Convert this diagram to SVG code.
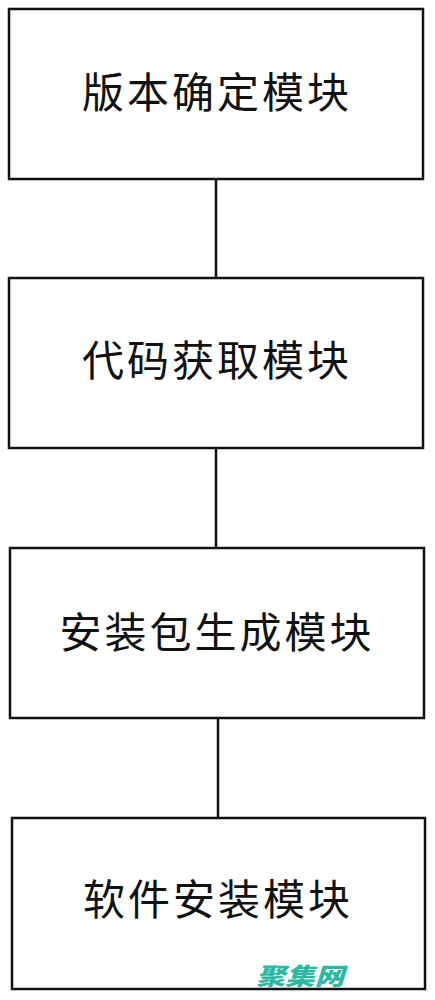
<svg xmlns="http://www.w3.org/2000/svg" width="435" height="1000" viewBox="0 0 435 1000">
<style>
.box{fill:#fff;stroke:#111;stroke-width:2.5}
.lbl{font-family:"Noto Sans CJK SC","Noto Sans CJK JP",sans-serif;font-size:42px;fill:#111;text-anchor:middle;dominant-baseline:central;letter-spacing:3px}
.conn{stroke:#111;stroke-width:2.5;fill:none}
.wm{font-family:"Noto Sans CJK SC",sans-serif;font-weight:900;font-style:italic;font-size:24px;fill:#2db8a2}
</style>
<rect width="435" height="1000" fill="#fff"/>
<g id="connectors">
<line class="conn" x1="216" y1="179" x2="216" y2="278"/>
<line class="conn" x1="216" y1="448" x2="216" y2="548"/>
<line class="conn" x1="218" y1="718" x2="218" y2="818"/>
</g>
<g id="node1">
<rect class="box" x="9" y="9" width="414" height="170"/>
<text class="lbl" x="217" y="89">版本确定模块</text>
</g>
<g id="node2">
<rect class="box" x="9" y="278" width="414" height="170"/>
<text class="lbl" x="217" y="357">代码获取模块</text>
</g>
<g id="node3">
<rect class="box" x="10" y="548" width="414" height="170"/>
<text class="lbl" x="217" y="629">安装包生成模块</text>
</g>
<g id="node4">
<rect class="box" x="12" y="818" width="413" height="171"/>
<text class="lbl" x="218" y="896">软件安装模块</text>
</g>
<text class="wm" x="256" y="985" textLength="88" lengthAdjust="spacingAndGlyphs">聚集网</text>
</svg>
